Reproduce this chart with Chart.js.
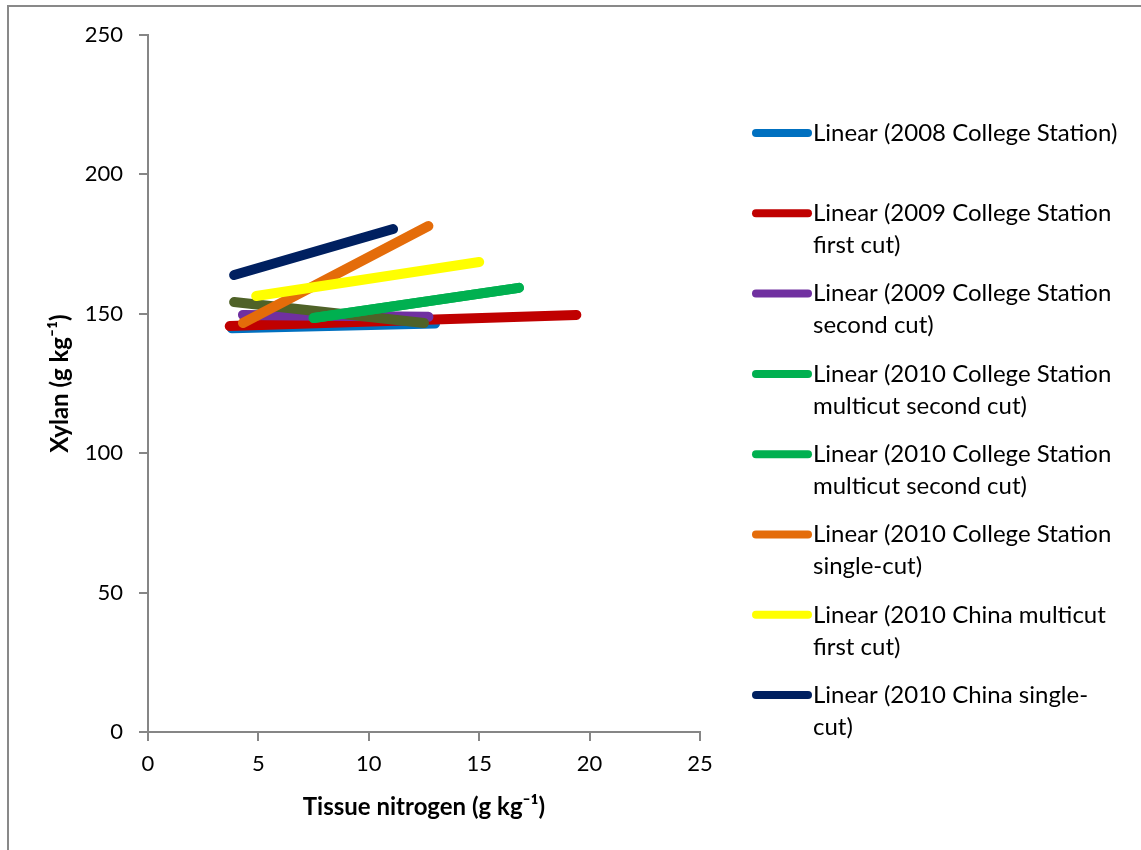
<!DOCTYPE html>
<html>
<head>
<meta charset="utf-8">
<script src="https://cdn.jsdelivr.net/npm/chart.js@4/dist/chart.umd.min.js"></script>
<style>
  html, body { margin: 0; padding: 0; background: #fff; overflow: hidden; }
  #frame {
    position: absolute; left: 7px; top: 5px; width: 1200px; height: 900px;
    border-left: 2px solid #898989; border-top: 2px solid #898989;
  }
  #chart { position: absolute; left: 0; top: 0; }
</style>
</head>
<body>
<div id="frame"></div>
<canvas id="chart" width="1141" height="850"></canvas>
<script>
// legend text, one array of lines per series (null = not in legend)
const seriesLabels = [
  ["Linear (2008 College Station)"],
  ["Linear (2009 College Station", "first cut)"],
  ["Linear (2009 College Station", "second cut)"],
  null,
  ["Linear (2010 College Station", "multicut second cut)"],
  ["Linear (2010 College Station", "multicut second cut)"],
  ["Linear (2010 College Station", "single-cut)"],
  ["Linear (2010 China multicut", "first cut)"],
  ["Linear (2010 China single-", "cut)"]
];
const seriesColors = ["#0070C0", "#C00000", "#7030A0", "#4F6228", "#00B050", "#00B050", "#E46C0A", "#FFFF00", "#002060"];

// trend line end points (tissue nitrogen, xylan)
const nitrogenStart = [3.8, 3.7, 4.3, 3.9, 7.5, 7.5, 4.3, 4.9, 3.9];
const nitrogenEnd   = [13.0, 19.4, 12.7, 12.5, 16.8, 16.8, 12.7, 15.0, 11.1];
const xylanStart    = [144.8, 145.6, 149.6, 154.2, 148.5, 148.5, 146.7, 156.4, 163.9];
const xylanEnd      = [146.5, 149.6, 148.9, 146.7, 159.3, 159.3, 181.5, 168.6, 180.4];

const xTicks = [0, 5, 10, 15, 20, 25];
const yTicks = [0, 50, 100, 150, 200, 250];

const FONT = "Lato, 'Noto Sans', sans-serif";
const AXIS_GREY = "#868686";

const datasets = seriesColors.map((color, i) => ({
  label: seriesLabels[i] ? seriesLabels[i].join(" ") : "",
  data: [
    { x: nitrogenStart[i], y: xylanStart[i] },
    { x: nitrogenEnd[i], y: xylanEnd[i] }
  ],
  showLine: true,
  borderColor: color,
  backgroundColor: color,
  borderWidth: 10,
  borderCapStyle: "round",
  pointRadius: 0,
  pointHoverRadius: 0,
  order: seriesColors.length - i
}));

// legend drawn on the right, with wrapped text like the original
const sideLegend = {
  id: "sideLegend",
  afterDraw(chart) {
    const ctx = chart.ctx;
    const x0 = chart.chartArea.right + 52;
    let y = 133;
    ctx.save();
    ctx.font = "24px " + FONT;
    ctx.textBaseline = "middle";
    ctx.textAlign = "left";
    seriesLabels.forEach((lines, i) => {
      if (!lines) return;
      ctx.strokeStyle = seriesColors[i];
      ctx.lineWidth = 8;
      ctx.lineCap = "round";
      ctx.beginPath();
      ctx.moveTo(x0 + 4, y);
      ctx.lineTo(x0 + 56, y);
      ctx.stroke();
      ctx.fillStyle = "#000";
      lines.forEach((line, k) => ctx.fillText(line, x0 + 61, y + k * 32));
      y += 80.3;
    });
    ctx.restore();
  }
};

new Chart(document.getElementById("chart"), {
  type: "scatter",
  data: { datasets },
  options: {
    responsive: false,
    animation: false,
    layout: { padding: { top: 35, right: 441, left: 0, bottom: 0 } },
    plugins: {
      legend: { display: false },
      tooltip: { enabled: false }
    },
    scales: {
      x: {
        type: "linear",
        min: 0, max: 25,
        afterBuildTicks: s => { s.ticks = xTicks.map(v => ({ value: v })); },
        afterFit: s => { s.height = 118; },
        border: { color: AXIS_GREY, width: 2 },
        grid: { drawOnChartArea: false, drawTicks: true, tickLength: 9, color: AXIS_GREY, lineWidth: 2 },
        ticks: { color: "#000", font: { family: FONT, size: 22 }, padding: 10, maxRotation: 0 },
        title: {
          display: true,
          text: "Tissue nitrogen (g kg\u207B\u00B9)",
          color: "#000",
          font: { family: FONT, size: 24, weight: "bold" },
          padding: { top: 0, bottom: 28 }
        }
      },
      y: {
        type: "linear",
        min: 0, max: 250,
        afterBuildTicks: s => { s.ticks = yTicks.map(v => ({ value: v })); },
        afterFit: s => { s.width = 148; },
        border: { color: AXIS_GREY, width: 2 },
        grid: { drawOnChartArea: false, drawTicks: true, tickLength: 9, color: AXIS_GREY, lineWidth: 2 },
        ticks: { color: "#000", font: { family: FONT, size: 22 }, padding: 16 },
        title: {
          display: true,
          text: "Xylan (g kg\u207B\u00B9)",
          color: "#000",
          font: { family: FONT, size: 24, weight: "bold" },
          padding: { top: 46, bottom: 0 }
        }
      }
    }
  },
  plugins: [sideLegend]
});
</script>
</body>
</html>
